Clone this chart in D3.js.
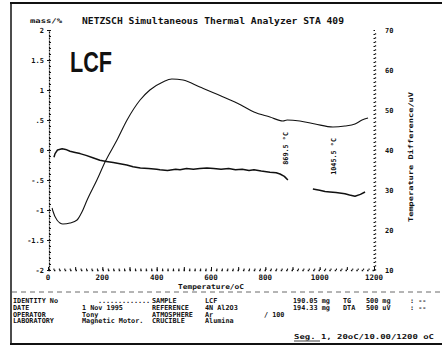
<!DOCTYPE html>
<html>
<head>
<meta charset="utf-8">
<script src="https://cdn.jsdelivr.net/npm/d3@7"></script>
<style>
  body { margin: 0; background: #fff; }
  svg { display: block; }
  text { font-family: "DejaVu Sans Mono", monospace; font-weight: bold; fill: #111; }
  .axis path, .axis line { stroke: #111; }
</style>
</head>
<body>
<div id="chart"></div>
<script>
// TG trace (mass change, %) -- null marks the break in the printed trace
const tgTemp = [22, 26, 35, 52, 65, 81, 100, 118, 140, 165, 191, 215, 240, 265, 290, 313, 340, 370, 400, 412, 440, 470, 486, 510, 535, 559, 585, 610, 637, 665, 690, 715, 740, 758, 785, 817, 840, 854, 870, 883, 930, 975, 1000, 1020, 1038, 1060, 1080, 1093, 1110, 1130, 1150, 1167];
const tgMass = [-0.12, -0.06, 0.0, 0.02, 0.01, -0.02, -0.04, -0.06, -0.09, -0.13, -0.17, -0.19, -0.21, -0.23, -0.25, -0.28, -0.30, -0.31, -0.32, -0.33, -0.34, -0.32, -0.33, -0.31, -0.32, -0.31, -0.30, -0.31, -0.32, -0.31, -0.33, -0.32, -0.34, -0.33, -0.35, -0.37, -0.38, -0.40, -0.44, -0.50, null, -0.65, -0.67, -0.69, -0.70, -0.71, -0.72, -0.73, -0.75, -0.77, -0.74, -0.70];

// DTA trace (temperature difference, uV)
const dtaTemp = [15, 18, 33, 55, 81, 107, 125, 144, 180, 210, 254, 291, 339, 375, 423, 456, 497, 559, 637, 710, 758, 817, 865, 880, 927, 983, 1049, 1093, 1130, 1156, 1178];
const dtaSignal = [25.5, 24.75, 22.5, 21.5, 21.75, 22.5, 24.5, 27.5, 32.5, 37, 42.5, 47.5, 52.5, 55, 57, 57.75, 57.5, 55.75, 53.5, 51.25, 49.5, 48.25, 47.25, 47.5, 47.25, 46.5, 45.75, 46, 46.5, 47.5, 48];

const massTicks = [2, 1.5, 1, 0.5, 0, -0.5, -1, -1.5, -2];
const signalTicks = [70, 60, 50, 40, 30, 20, 10];
const tempTicks = [0, 200, 400, 600, 800, 1000, 1200];

const peakTemps = [869.5, 1045.5];
const peakLabels = ["869.5 °C", "1045.5 °C"];

// info block
const infoLabels = ["IDENTITY No", "DATE", "OPERATOR", "LABORATORY"];
const infoValues = ["", "1 Nov 1995", "Tony", "Magnetic Motor."];
const sampleLabels = ["SAMPLE", "REFERENCE", "ATMOSPHERE", "CRUCIBLE"];
const sampleValues = ["LCF", "4N Al2O3", "Ar", "Alumina"];
const sampleMasses = ["190.05 mg", "194.33 mg"];
const signalNames = ["TG", "DTA"];
const signalRanges = ["500 mg", "500 uV"];
const segmentText = "Seg. 1, 20oC/10.00/1200 oC";

const width = 442, height = 347;

const svg = d3.select("#chart").append("svg")
  .attr("width", width)
  .attr("height", height);

// scales
const x = d3.scaleLinear().domain([0, 1200]).range([48, 374]);
const yMass = d3.scaleLinear().domain([-2, 2]).range([270, 30]);
const ySig = d3.scaleLinear().domain([10, 70]).range([270, 30]);

// FRAME
svg.append("line").attr("x1", 10).attr("x2", 442).attr("y1", 3).attr("y2", 3)
  .attr("stroke", "#111").attr("stroke-width", 2);
svg.append("line").attr("x1", 11).attr("x2", 11).attr("y1", 3).attr("y2", 344)
  .attr("stroke", "#111").attr("stroke-width", 1.5);
svg.append("line").attr("x1", 10).attr("x2", 442).attr("y1", 344).attr("y2", 344)
  .attr("stroke", "#111").attr("stroke-width", 2);
svg.append("line").attr("x1", 12).attr("x2", 440).attr("y1", 292).attr("y2", 292)
  .attr("stroke", "#444").attr("stroke-width", 0.8).attr("stroke-dasharray", "5,4");

// TITLE
svg.append("text")
  .attr("x", 82).attr("y", 24)
  .attr("font-size", 9.5)
  .attr("textLength", 262).attr("lengthAdjust", "spacingAndGlyphs")
  .text("NETZSCH Simultaneous Thermal Analyzer STA 409");

svg.append("text")
  .attr("x", 30).attr("y", 23)
  .attr("font-size", 6.5)
  .attr("textLength", 32).attr("lengthAdjust", "spacingAndGlyphs")
  .text("mass/%");

svg.append("text")
  .attr("x", 70).attr("y", 72)
  .style("font-family", "'Liberation Sans', Arial, sans-serif")
  .attr("font-size", 29)
  .attr("textLength", 42).attr("lengthAdjust", "spacingAndGlyphs")
  .text("LCF");

// LEFT AXIS (mass)
const leftMinor = svg.append("g")
  .attr("class", "axis")
  .attr("transform", "translate(49,0)")
  .call(d3.axisRight(yMass).tickValues(yMass.ticks(40)).tickSize(2).tickSizeOuter(0).tickFormat(""));
leftMinor.select(".domain").attr("stroke-dasharray", "2,1").attr("stroke-width", 1.2);

const fmtMass = d => d === 0 ? "0" : String(d).replace("0.", ".");
const leftAxis = svg.append("g")
  .attr("class", "axis")
  .attr("transform", "translate(49,0)")
  .call(d3.axisLeft(yMass).tickValues(massTicks).tickSize(2).tickPadding(3).tickFormat(fmtMass));
leftAxis.select(".domain").remove();
leftAxis.selectAll("text").attr("font-size", 7).style("font-family", "'DejaVu Sans Mono', monospace");

// BOTTOM AXIS (temperature)
const bottomMinor = svg.append("g")
  .attr("class", "axis")
  .attr("transform", "translate(0,270)")
  .call(d3.axisTop(x).tickValues(x.ticks(60)).tickSize(1.5).tickSizeOuter(0).tickFormat(""));
bottomMinor.select(".domain").attr("stroke-dasharray", "1.5,3.9").attr("stroke-width", 1.4);

const bottomAxis = svg.append("g")
  .attr("class", "axis")
  .attr("transform", "translate(0,270)")
  .call(d3.axisTop(x).tickValues(x.ticks(12)).tickSize(3).tickFormat(""));
bottomAxis.select(".domain").remove();

svg.append("g").selectAll("text")
  .data(tempTicks)
  .enter().append("text")
  .attr("x", d => x(d))
  .attr("y", 280)
  .attr("text-anchor", "middle")
  .attr("font-size", 7.5)
  .text(d => d);

svg.append("text")
  .attr("x", 178).attr("y", 289)
  .attr("font-size", 6.8)
  .attr("textLength", 66).attr("lengthAdjust", "spacingAndGlyphs")
  .text("Temperature/oC");

// RIGHT AXIS (DTA signal)
const rightMinor = svg.append("g")
  .attr("class", "axis")
  .attr("transform", "translate(375,0)")
  .call(d3.axisLeft(ySig).tickValues(ySig.ticks(60)).tickSize(1.5).tickSizeOuter(0).tickFormat(""));
rightMinor.select(".domain").attr("stroke-dasharray", "1.2,2.8").attr("stroke-width", 1.3);

const rightAxis = svg.append("g")
  .attr("class", "axis")
  .attr("transform", "translate(375,0)")
  .call(d3.axisRight(ySig).tickValues(signalTicks).tickSize(0).tickPadding(10));
rightAxis.select(".domain").remove();
rightAxis.selectAll("text").attr("font-size", 7).style("font-family", "'DejaVu Sans Mono', monospace");

svg.append("text")
  .attr("transform", "translate(413,157) rotate(-90)")
  .attr("text-anchor", "middle")
  .attr("font-size", 6.5)
  .attr("textLength", 130).attr("lengthAdjust", "spacingAndGlyphs")
  .text("Temperature Difference/uV");

// DRAW CURVES
const tgLine = d3.line()
  .defined(d => d[1] !== null)
  .x(d => x(d[0]))
  .y(d => yMass(d[1]));

svg.append("path")
  .datum(d3.zip(tgTemp, tgMass))
  .attr("fill", "none")
  .attr("stroke", "#111")
  .attr("stroke-width", 1.5)
  .attr("stroke-linejoin", "round")
  .attr("d", tgLine);

const dtaLine = d3.line()
  .curve(d3.curveMonotoneX)
  .x(d => x(d[0]))
  .y(d => ySig(d[1]));

svg.append("path")
  .datum(d3.zip(dtaTemp, dtaSignal))
  .attr("fill", "none")
  .attr("stroke", "#111")
  .attr("stroke-width", 1.1)
  .attr("d", dtaLine);

// peak annotations, written along the trace
const dtaAt = t => ySig(d3.zip(dtaTemp, dtaSignal).reduce((a, b) => Math.abs(b[0] - t) < Math.abs(a[0] - t) ? b : a)[1]);
svg.append("g").selectAll("text")
  .data(peakTemps)
  .enter().append("text")
  .attr("transform", d => "translate(" + (x(d) + 4) + "," + (dtaAt(d) + 11) + ") rotate(-90)")
  .attr("text-anchor", "end")
  .attr("font-size", 6.8)
  .text((d, i) => peakLabels[i]);

// INFO BLOCK
const rowY = [303, 310, 316.5, 323];
const info = svg.append("g").attr("font-size", 6.8);

info.selectAll(".lab").data(infoLabels).enter().append("text")
  .attr("x", 13).attr("y", (d, i) => rowY[i]).text(d => d);
info.selectAll(".val").data(infoValues).enter().append("text")
  .attr("x", 82).attr("y", (d, i) => rowY[i]).text(d => d);
info.append("text").attr("x", 98).attr("y", rowY[0]).attr("font-weight", "normal")
  .attr("textLength", 52).text(".............");
info.selectAll(".slab").data(sampleLabels).enter().append("text")
  .attr("x", 152).attr("y", (d, i) => rowY[i]).text(d => d);
info.selectAll(".sval").data(sampleValues).enter().append("text")
  .attr("x", 205).attr("y", (d, i) => rowY[i]).text(d => d);
info.append("text").attr("x", 264).attr("y", rowY[2]).text("/ 100");
info.selectAll(".mass").data(sampleMasses).enter().append("text")
  .attr("x", 293).attr("y", (d, i) => rowY[i]).text(d => d);
info.selectAll(".sig").data(signalNames).enter().append("text")
  .attr("x", 343).attr("y", (d, i) => rowY[i]).text(d => d);
info.selectAll(".rng").data(signalRanges).enter().append("text")
  .attr("x", 366).attr("y", (d, i) => rowY[i]).text(d => d);
info.selectAll(".dash").data(signalRanges).enter().append("text")
  .attr("x", 410).attr("y", (d, i) => rowY[i]).text(": --");

info.append("text")
  .attr("x", 294).attr("y", 339)
  .attr("textLength", 140).attr("lengthAdjust", "spacingAndGlyphs")
  .text(segmentText);
info.append("line").attr("x1", 294).attr("x2", 320).attr("y1", 341).attr("y2", 341)
  .attr("stroke", "#111").attr("stroke-width", 0.8);
</script>
</body>
</html>
